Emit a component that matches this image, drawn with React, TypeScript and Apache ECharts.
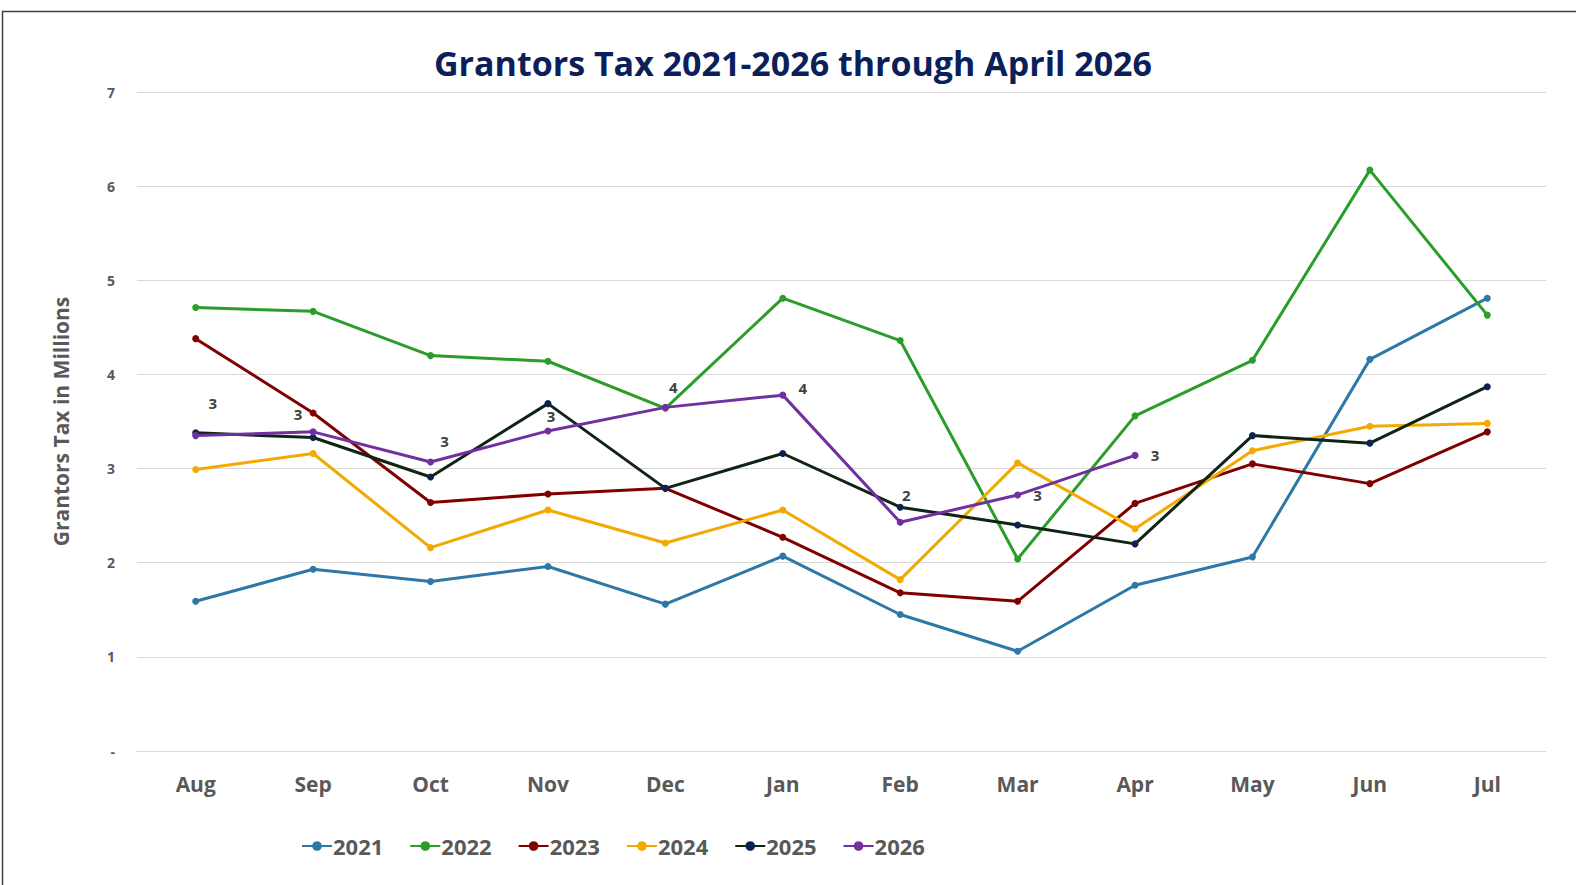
import React, { useEffect, useRef } from "react";
import * as echarts from "echarts";

const months = ["Aug", "Sep", "Oct", "Nov", "Dec", "Jan", "Feb", "Mar", "Apr", "May", "Jun", "Jul"];
const yTickLabels: Record<number, string> = { 0: "-", 1: "1", 2: "2", 3: "3", 4: "4", 5: "5", 6: "6", 7: "7" };

const s2021 = [1.59, 1.93, 1.8, 1.96, 1.56, 2.07, 1.45, 1.06, 1.76, 2.06, 4.16, 4.81];
const s2022 = [4.71, 4.67, 4.2, 4.14, 3.64, 4.81, 4.36, 2.04, 3.56, 4.15, 6.17, 4.63];
const s2023 = [4.38, 3.59, 2.64, 2.73, 2.79, 2.27, 1.68, 1.59, 2.63, 3.05, 2.84, 3.39];
const s2024 = [2.99, 3.16, 2.16, 2.56, 2.21, 2.56, 1.82, 3.06, 2.36, 3.19, 3.45, 3.48];
const s2025 = [3.38, 3.33, 2.91, 3.69, 2.79, 3.16, 2.59, 2.4, 2.2, 3.35, 3.27, 3.87];
const s2026 = [3.35, 3.39, 3.07, 3.4, 3.65, 3.78, 2.43, 2.72, 3.14];

const labelOffsets26: number[][] = [
  [17, -33], [-15, -18], [14, -21], [3, -15], [8, -20], [20, -7], [6, -27], [20, 0], [20, 0],
];

const FONT = "'Open Sans', 'Noto Sans', sans-serif";

export default function App() {
  const ref = useRef<HTMLDivElement>(null);
  useEffect(() => {
    document.body.style.margin = "0";
    const chart = echarts.init(ref.current!, null, { renderer: "svg" });
    const mk = (name: string, data: (number | null)[], color: string, markerColor?: string) => ({
      name,
      type: "line",
      data,
      symbol: "circle",
      symbolSize: 7,
      lineStyle: { width: 3, color },
      itemStyle: { color: markerColor || color },
      color,
      z: 2,
    });
    const s26: any = mk("2026", s2026, "#7030a0");
    s26.data = s2026.map((v, i) => ({
      value: v,
      label: { offset: labelOffsets26[i] },
    }));
    s26.label = {
      show: true,
      position: "inside",
      formatter: (p: any) => String(Math.round(p.value)),
      fontFamily: FONT,
      fontWeight: "bold",
      fontSize: 15,
      color: "#404040",
    };
    s26.z = 3;
    chart.setOption({
      animation: false,
      backgroundColor: "#ffffff",
      title: {
        text: "Grantors Tax 2021-2026 through April 2026",
        left: 788,
        top: 41,
        textAlign: "center",
        textStyle: { fontFamily: FONT, fontWeight: "bold", fontSize: 34, color: "#0c1f5a" },
      },
      graphic: [
        {
          type: "polyline",
          shape: { points: [[2.5, 885], [2.5, 11.5], [1576, 11.5]] },
          style: { stroke: "#404040", lineWidth: 1.5, fill: "none" },
          silent: true,
        },
      ],
      grid: { left: 137, right: 30, top: 92, bottom: 134 },
      legend: {
        left: 296,
        top: 830,
        itemWidth: 30,
        itemHeight: 12,
        itemGap: 26,
        textStyle: { fontFamily: FONT, fontWeight: "bold", fontSize: 22, color: "#595959", padding: [0, 0, 0, -4] },
        data: ["2021", "2022", "2023", "2024", "2025", "2026"],
      },
      xAxis: {
        type: "category",
        data: months,
        boundaryGap: true,
        axisLine: { show: true, lineStyle: { color: "#d9d9d9", width: 1 } },
        axisTick: { show: false },
        axisLabel: { fontFamily: FONT, fontWeight: "bold", fontSize: 21, color: "#595959", margin: 22 },
      },
      yAxis: {
        type: "value",
        min: 0,
        max: 7,
        interval: 1,
        name: "Grantors Tax in Millions",
        nameLocation: "middle",
        nameGap: 66,
        nameTextStyle: { fontFamily: FONT, fontWeight: "bold", fontSize: 21, color: "#595959" },
        axisLine: { show: false },
        axisTick: { show: false },
        splitLine: { lineStyle: { color: "#d9d9d9", width: 1 } },
        axisLabel: {
          fontFamily: FONT,
          fontWeight: "bold",
          fontSize: 14,
          color: "#595959",
          margin: 22,
          formatter: (v: number) => yTickLabels[v] ?? String(v),
        },
      },
      series: [
        mk("2021", s2021, "#2e78a8"),
        mk("2022", s2022, "#2a9d2a"),
        mk("2023", s2023, "#800000"),
        mk("2024", s2024, "#f2a900"),
        mk("2025", s2025, "#0f2414", "#0c2250"),
        s26,
      ],
    });
    return () => chart.dispose();
  }, []);
  return <div ref={ref} style={{ width: 1576, height: 885 }} />;
}
